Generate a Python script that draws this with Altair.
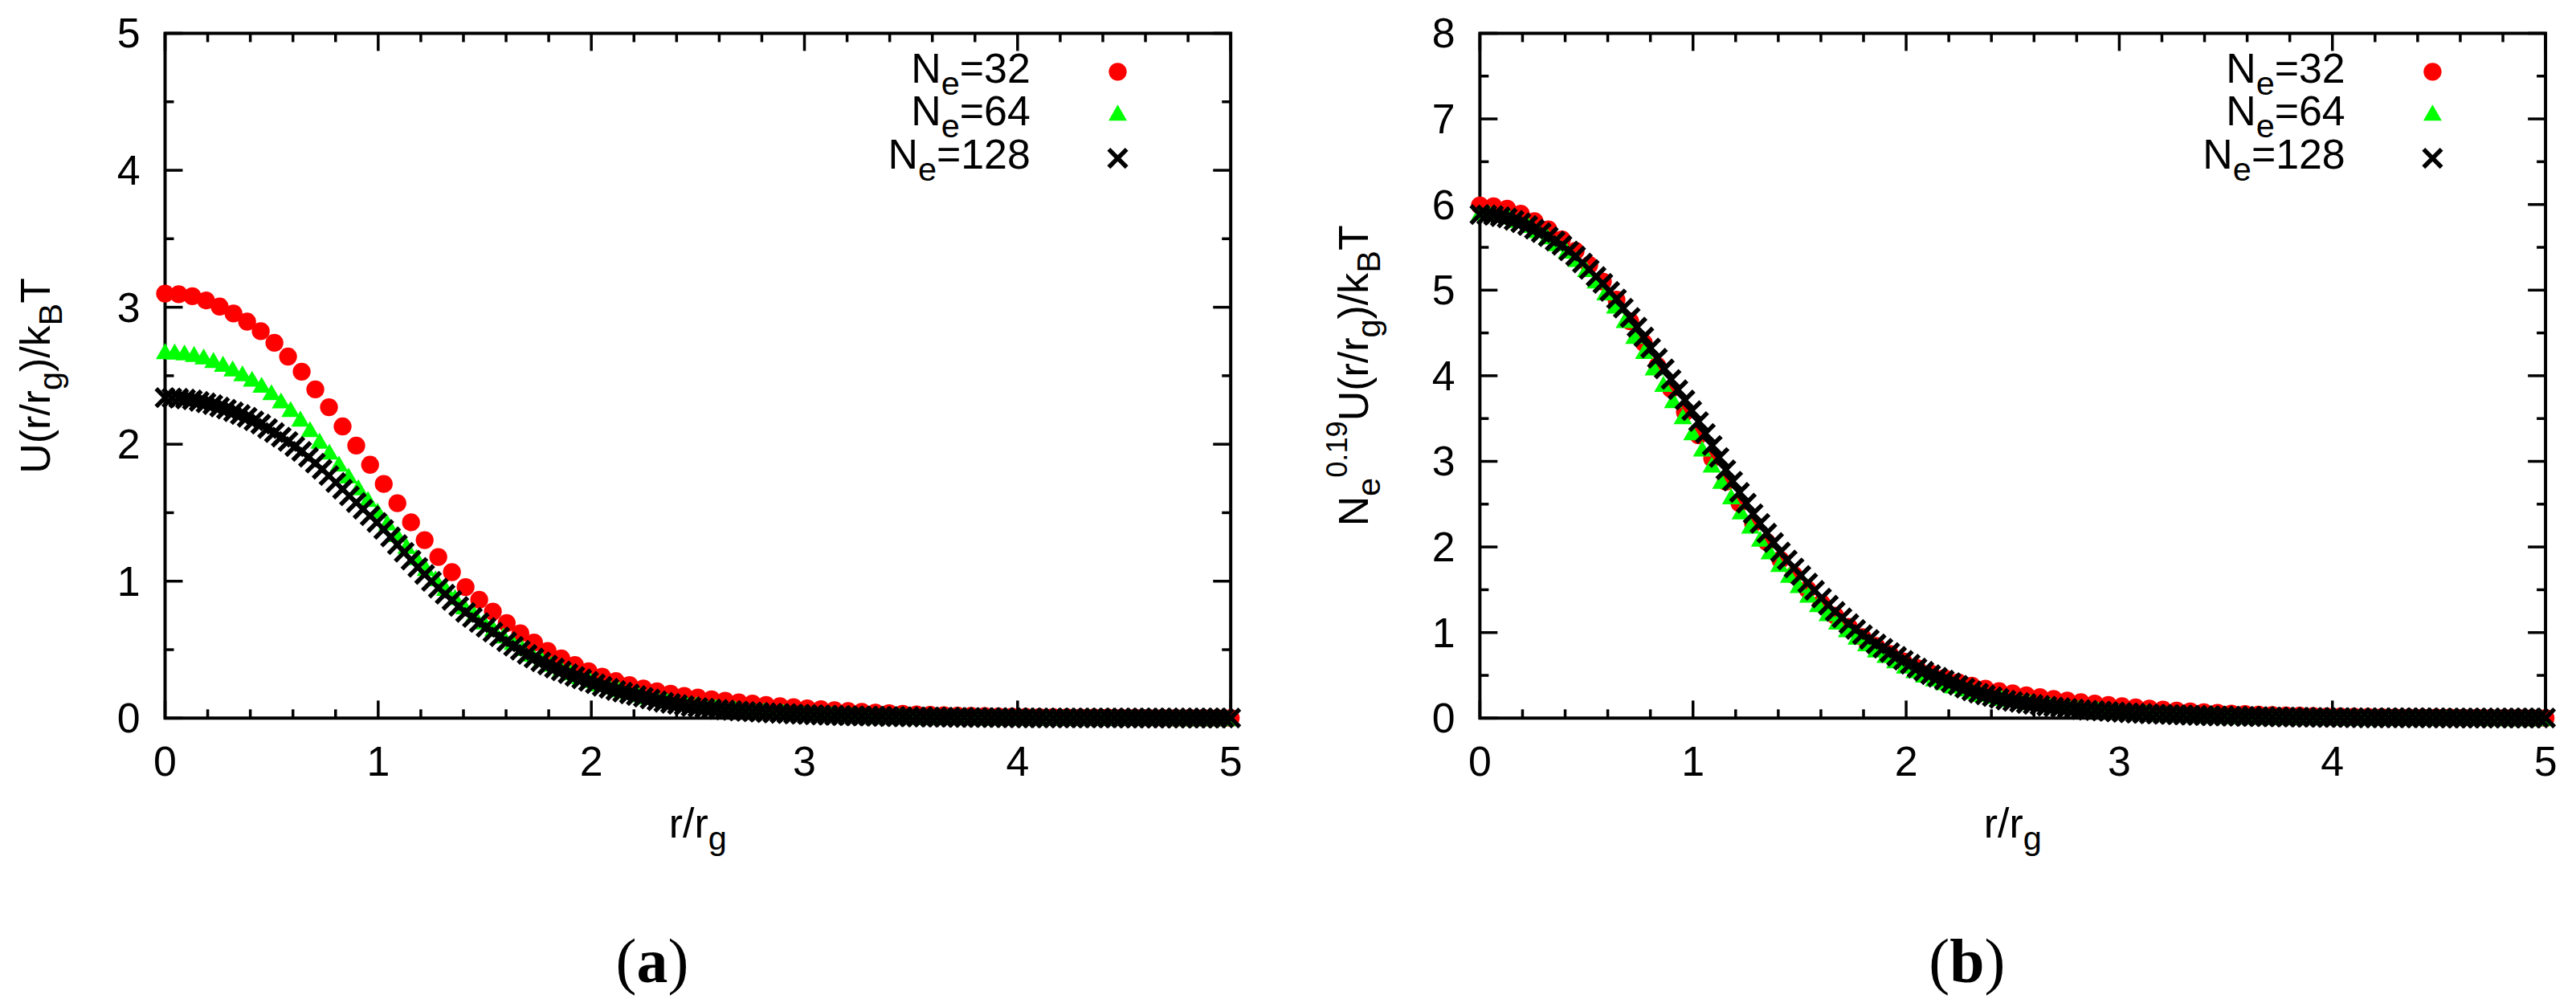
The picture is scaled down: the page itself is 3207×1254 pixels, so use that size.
import altair as alt
import pandas as pd

# ------------------------------------------------------------------ data
# N_e = 32 (red circles)
X_N32 = [0.000, 0.064, 0.128, 0.192, 0.256, 0.321, 0.385, 0.449, 0.513, 0.577,
         0.641, 0.705, 0.769, 0.833, 0.897, 0.962, 1.026, 1.090, 1.154, 1.218,
         1.282, 1.346, 1.410, 1.474, 1.538, 1.603, 1.667, 1.731, 1.795, 1.859,
         1.923, 1.987, 2.051, 2.115, 2.179, 2.244, 2.308, 2.372, 2.436, 2.500,
         2.564, 2.628, 2.692, 2.756, 2.820, 2.885, 2.949, 3.013, 3.077, 3.141,
         3.205, 3.269, 3.333, 3.397, 3.461, 3.526, 3.590, 3.654, 3.718, 3.782,
         3.846, 3.910, 3.974, 4.038, 4.102, 4.167, 4.231, 4.295, 4.359, 4.423,
         4.487, 4.551, 4.615, 4.679, 4.743, 4.808, 4.872, 4.936, 5.000]
U_N32 = [3.100, 3.095, 3.080, 3.050, 3.005, 2.955, 2.895, 2.825, 2.740, 2.640,
         2.530, 2.400, 2.270, 2.130, 1.990, 1.850, 1.710, 1.570, 1.430, 1.300,
         1.177, 1.066, 0.957, 0.865, 0.778, 0.695, 0.620, 0.552, 0.490, 0.437,
         0.388, 0.343, 0.303, 0.270, 0.242, 0.217, 0.196, 0.178, 0.163, 0.150,
         0.138, 0.127, 0.116, 0.106, 0.097, 0.088, 0.080, 0.072, 0.065, 0.058,
         0.052, 0.046, 0.041, 0.036, 0.032, 0.028, 0.025, 0.022, 0.019, 0.017,
         0.015, 0.013, 0.011, 0.010, 0.009, 0.008, 0.007, 0.006, 0.005, 0.005,
         0.004, 0.004, 0.003, 0.003, 0.002, 0.002, 0.002, 0.001, 0.001]

# N_e = 64 (green triangles)
X_N64 = [0.000, 0.045, 0.091, 0.136, 0.181, 0.227, 0.272, 0.317, 0.363, 0.408,
         0.453, 0.499, 0.544, 0.589, 0.635, 0.680, 0.725, 0.771, 0.816, 0.861,
         0.907, 0.952, 0.997, 1.043, 1.088, 1.133, 1.179, 1.224, 1.269, 1.315,
         1.360, 1.405, 1.451, 1.496, 1.541, 1.587, 1.632, 1.677, 1.723, 1.768,
         1.813, 1.859, 1.904, 1.949, 1.995, 2.040, 2.085, 2.131, 2.176, 2.221,
         2.267, 2.312, 2.357, 2.402, 2.448, 2.493, 2.538, 2.584, 2.629, 2.674,
         2.720, 2.765, 2.810, 2.856, 2.901, 2.946, 2.992, 3.037, 3.082, 3.128,
         3.173, 3.218, 3.264, 3.309, 3.354, 3.400, 3.445, 3.490, 3.536, 3.581,
         3.626, 3.672, 3.717, 3.762, 3.808, 3.853, 3.898, 3.944, 3.989, 4.034,
         4.080, 4.125, 4.170, 4.216, 4.261, 4.306, 4.352, 4.397, 4.442, 4.488,
         4.533, 4.578, 4.624, 4.669, 4.714, 4.760, 4.805, 4.850, 4.896, 4.941,
         4.986]
U_N64 = [2.680, 2.677, 2.670, 2.659, 2.641, 2.615, 2.587, 2.554, 2.518, 2.478,
         2.434, 2.380, 2.320, 2.257, 2.187, 2.110, 2.026, 1.946, 1.859, 1.772,
         1.686, 1.600, 1.515, 1.429, 1.344, 1.258, 1.176, 1.096, 1.021, 0.951,
         0.884, 0.817, 0.760, 0.706, 0.655, 0.604, 0.557, 0.512, 0.471, 0.432,
         0.397, 0.364, 0.335, 0.307, 0.279, 0.254, 0.231, 0.211, 0.192, 0.174,
         0.158, 0.142, 0.129, 0.118, 0.108, 0.100, 0.093, 0.085, 0.078, 0.072,
         0.066, 0.061, 0.056, 0.051, 0.047, 0.043, 0.039, 0.036, 0.033, 0.030,
         0.027, 0.025, 0.022, 0.020, 0.018, 0.016, 0.015, 0.013, 0.012, 0.011,
         0.010, 0.009, 0.008, 0.007, 0.006, 0.006, 0.005, 0.005, 0.004, 0.004,
         0.003, 0.003, 0.003, 0.002, 0.002, 0.002, 0.002, 0.001, 0.001, 0.001,
         0.001, 0.001, 0.001, 0.001, 0.001, 0.000, 0.000, 0.000, 0.000, 0.000,
         0.000]

# N_e = 128 (black crosses)
X_N128 = [0.000, 0.032, 0.064, 0.096, 0.128, 0.160, 0.192, 0.224, 0.256, 0.288,
          0.321, 0.353, 0.385, 0.417, 0.449, 0.481, 0.513, 0.545, 0.577, 0.609,
          0.641, 0.673, 0.705, 0.737, 0.769, 0.801, 0.833, 0.865, 0.897, 0.929,
          0.962, 0.994, 1.026, 1.058, 1.090, 1.122, 1.154, 1.186, 1.218, 1.250,
          1.282, 1.314, 1.346, 1.378, 1.410, 1.442, 1.474, 1.506, 1.538, 1.570,
          1.603, 1.635, 1.667, 1.699, 1.731, 1.763, 1.795, 1.827, 1.859, 1.891,
          1.923, 1.955, 1.987, 2.019, 2.051, 2.083, 2.115, 2.147, 2.179, 2.211,
          2.244, 2.276, 2.308, 2.340, 2.372, 2.404, 2.436, 2.468, 2.500, 2.532,
          2.564, 2.596, 2.628, 2.660, 2.692, 2.724, 2.756, 2.788, 2.820, 2.852,
          2.885, 2.917, 2.949, 2.981, 3.013, 3.045, 3.077, 3.109, 3.141, 3.173,
          3.205, 3.237, 3.269, 3.301, 3.333, 3.365, 3.397, 3.429, 3.461, 3.493,
          3.526, 3.558, 3.590, 3.622, 3.654, 3.686, 3.718, 3.750, 3.782, 3.814,
          3.846, 3.878, 3.910, 3.942, 3.974, 4.006, 4.038, 4.070, 4.102, 4.134,
          4.167, 4.199, 4.231, 4.263, 4.295, 4.327, 4.359, 4.391, 4.423, 4.455,
          4.487, 4.519, 4.551, 4.583, 4.615, 4.647, 4.679, 4.711, 4.743, 4.776,
          4.808, 4.840, 4.872, 4.904, 4.936, 4.968, 5.000]
U_N128 = [2.340, 2.338, 2.336, 2.330, 2.324, 2.313, 2.302, 2.289, 2.272, 2.256,
          2.237, 2.217, 2.197, 2.171, 2.147, 2.115, 2.085, 2.052, 2.020, 1.983,
          1.948, 1.905, 1.862, 1.817, 1.771, 1.720, 1.672, 1.623, 1.574, 1.526,
          1.478, 1.429, 1.378, 1.323, 1.267, 1.211, 1.154, 1.101, 1.049, 0.999,
          0.950, 0.905, 0.860, 0.816, 0.772, 0.735, 0.698, 0.663, 0.628, 0.594,
          0.558, 0.525, 0.496, 0.466, 0.439, 0.412, 0.388, 0.366, 0.345, 0.325,
          0.305, 0.287, 0.269, 0.251, 0.233, 0.218, 0.202, 0.190, 0.177, 0.165,
          0.153, 0.140, 0.127, 0.116, 0.108, 0.100, 0.092, 0.084, 0.078, 0.073,
          0.068, 0.064, 0.060, 0.056, 0.052, 0.049, 0.046, 0.043, 0.040, 0.037,
          0.035, 0.033, 0.031, 0.029, 0.027, 0.025, 0.023, 0.022, 0.020, 0.019,
          0.018, 0.017, 0.016, 0.015, 0.014, 0.013, 0.012, 0.011, 0.010, 0.010,
          0.009, 0.009, 0.008, 0.008, 0.007, 0.007, 0.006, 0.006, 0.005, 0.005,
          0.005, 0.004, 0.004, 0.004, 0.003, 0.003, 0.003, 0.003, 0.002, 0.002,
          0.002, 0.002, 0.002, 0.002, 0.002, 0.002, 0.002, 0.002, 0.002, 0.002,
          0.002, 0.001, 0.001, 0.001, 0.001, 0.001, 0.001, 0.001, 0.001, 0.001,
          0.001, 0.001, 0.001, 0.001, 0.001, 0.001, 0.001]

N_E = [32, 64, 128]
LEGEND_VALUES = ["=32", "=64", "=128"]
SCALING_EXPONENT = 0.19          # panel (b): N_e^0.19 * U

X_MAJOR = [0, 1, 2, 3, 4, 5]
X_MINOR = [0.2, 0.4, 0.6, 0.8, 1.2, 1.4, 1.6, 1.8, 2.2, 2.4, 2.6, 2.8,
           3.2, 3.4, 3.6, 3.8, 4.2, 4.4, 4.6, 4.8]
YA_MAJOR = [0, 1, 2, 3, 4, 5]
YA_MINOR = [0.5, 1.5, 2.5, 3.5, 4.5]
YB_MAJOR = [0, 1, 2, 3, 4, 5, 6, 7, 8]
YB_MINOR = [0.5, 1.5, 2.5, 3.5, 4.5, 5.5, 6.5, 7.5]

# ------------------------------------------------------------------ style
W, H = 1330, 855
FONT = "Liberation Sans"
SERIF = "Liberation Serif"
FS = 52
SIZES = {"m": FS, "sub": FS * 0.8, "sup": FS * 0.7}
SHIFT = {"m": 0, "sub": 15, "sup": -26}
TICK_MAJ, TICK_MIN, TICK_W = 22, 11, 3.5
RED, GREEN, BLACK = "#ff0000", "#00ff00", "#000000"

# Arial / Liberation Sans advance widths (em)
CW = {"U": .722, "(": .333, ")": .333, "r": .333, "/": .278, "k": .5, "T": .611,
      "N": .722, "e": .556, "g": .556, "B": .667, "0": .556, "1": .556, "2": .556,
      "3": .556, "4": .556, "6": .556, "8": .556, "9": .556, ".": .278, "=": .584}
SERIF_W = {"(": .333, ")": .333, "a": .5, "b": .556}


def tw(s, size):
    return sum(CW[c] for c in s) * size


def layout_h(pieces, x0, y0):
    rows, x = [], x0
    for t, k in pieces:
        fs = SIZES[k]
        rows.append({"t": t, "x": x, "y": y0 + SHIFT[k], "fs": fs})
        x += tw(t, fs)
    return rows


def layout_v(pieces, xb, yc):
    total = sum(tw(t, SIZES[k]) for t, k in pieces)
    rows, y = [], yc + total / 2
    for t, k in pieces:
        fs = SIZES[k]
        rows.append({"t": t, "x": xb + SHIFT[k], "y": y, "fs": fs})
        y -= tw(t, fs)
    return rows


def text_layer(rows, angle=0, font=FONT, weight="normal"):
    return alt.Chart(pd.DataFrame(rows)).mark_text(
        align="left", baseline="alphabetic", font=font, fontWeight=weight,
        angle=angle, color="black"
    ).encode(
        x=alt.X("x:Q", scale=None, axis=None),
        y=alt.Y("y:Q", scale=None, axis=None),
        text="t:N",
        size=alt.Size("fs:Q", scale=None, legend=None),
    )


MARKS = [
    dict(shape="circle", filled=True, size=500, color=RED, opacity=1, strokeWidth=0),
    dict(shape="triangle-up", filled=True, size=530, color=GREEN, opacity=1, strokeWidth=0),
    dict(shape="M-1,-1L1,1M-1,1L1,-1", filled=False, size=500, color=BLACK,
         opacity=1, strokeWidth=5.5),
]


def panel(ymax, ymaj, ymin, ytitle, ytitle_x, letter, scaled):
    xs = alt.Scale(domain=[0, 5], nice=False, zero=False)
    ys = alt.Scale(domain=[0, ymax], nice=False, zero=False)
    layers = []

    # inward ticks on all four sides
    def tick(vals, side, ln):
        d = alt.Chart(pd.DataFrame({"v": vals})).mark_rule(color="black", strokeWidth=TICK_W)
        if side == "left":
            return d.encode(y=alt.Y("v:Q", scale=ys, axis=None), x=alt.value(0), x2=alt.value(ln))
        if side == "right":
            return d.encode(y=alt.Y("v:Q", scale=ys, axis=None), x=alt.value(W), x2=alt.value(W - ln))
        if side == "bottom":
            return d.encode(x=alt.X("v:Q", scale=xs, axis=None), y=alt.value(H), y2=alt.value(H - ln))
        return d.encode(x=alt.X("v:Q", scale=xs, axis=None), y=alt.value(0), y2=alt.value(ln))

    for side in ["left", "right"]:
        layers.append(tick(ymaj, side, TICK_MAJ))
        layers.append(tick(ymin, side, TICK_MIN))
    for side in ["bottom", "top"]:
        layers.append(tick(X_MAJOR, side, TICK_MAJ))
        layers.append(tick(X_MINOR, side, TICK_MIN))

    # tick labels, placed through the scales
    layers.append(alt.Chart(pd.DataFrame({"v": X_MAJOR})).mark_text(
        font=FONT, fontSize=FS, align="center", baseline="alphabetic", color="black"
    ).encode(x=alt.X("v:Q", scale=xs, axis=None), y=alt.value(H + 72),
             text=alt.Text("v:Q", format="d")))
    layers.append(alt.Chart(pd.DataFrame({"v": ymaj})).mark_text(
        font=FONT, fontSize=FS, align="right", baseline="alphabetic", dy=18, color="black"
    ).encode(y=alt.Y("v:Q", scale=ys, axis=None), x=alt.value(-31),
             text=alt.Text("v:Q", format="d")))

    # data series (red, green, black in drawing order)
    for xv, uv, n, mk in zip([X_N32, X_N64, X_N128], [U_N32, U_N64, U_N128], N_E, MARKS):
        f = n ** SCALING_EXPONENT if scaled else 1.0
        df = pd.DataFrame({"x": xv, "y": [u * f for u in uv]})
        layers.append(alt.Chart(df).mark_point(**mk).encode(
            x=alt.X("x:Q", scale=xs, axis=None),
            y=alt.Y("y:Q", scale=ys, axis=None),
        ))

    # key (text right-aligned, symbol to its right)
    base_y = [62, 115, 169]
    sym_y = [48, 99, 156]
    for lab, by, sy, mk in zip(LEGEND_VALUES, base_y, sym_y, MARKS):
        pieces = [("N", "m"), ("e", "sub"), (lab, "m")]
        total = sum(tw(t, SIZES[k]) for t, k in pieces)
        layers.append(text_layer(layout_h(pieces, 1080 - total, by)))
        layers.append(alt.Chart(pd.DataFrame({"k": [0]})).mark_point(**mk).encode(
            x=alt.value(1189), y=alt.value(sy)))

    # axis titles
    layers.append(text_layer(layout_v(ytitle, ytitle_x, H / 2), angle=270))
    xt = [("r/r", "m"), ("g", "sub")]
    xt_total = sum(tw(t, SIZES[k]) for t, k in xt)
    layers.append(text_layer(layout_h(xt, W / 2 - xt_total / 2, 1004)))

    # sub-figure caption "(a)" / "(b)" with bold letter
    cfs = 78
    wl = SERIF_W["("] * cfs
    wm = SERIF_W[letter] * cfs
    total = 2 * wl + wm
    x0 = 608 - total / 2
    cy = 1184
    layers.append(text_layer([{"t": "(", "x": x0, "y": cy, "fs": cfs},
                              {"t": ")", "x": x0 + wl + wm, "y": cy, "fs": cfs}], font=SERIF))
    layers.append(text_layer([{"t": letter, "x": x0 + wl, "y": cy, "fs": cfs}],
                             font=SERIF, weight="bold"))

    return alt.layer(*layers).properties(width=W, height=H)


YT_A = [("U(r/r", "m"), ("g", "sub"), (")/k", "m"), ("B", "sub"), ("T", "m")]
YT_B = [("N", "m"), ("e", "sub"), ("0.19", "sup"), ("U(r/r", "m"), ("g", "sub"),
        (")/k", "m"), ("B", "sub"), ("T", "m")]

pa = panel(5, YA_MAJOR, YA_MINOR, YT_A, -144, "a", False)
pb = panel(8, YB_MAJOR, YB_MINOR, YT_B, -140, "b", True)

chart = alt.hconcat(pa, pb, spacing=311, bounds="flush").properties(
    padding={"left": 9, "top": 6, "right": 5, "bottom": 5},
    background="white",
).configure_view(
    stroke="black", strokeWidth=4
)

chart.save("out.html", embed_options={"renderer": "svg", "actions": False})
